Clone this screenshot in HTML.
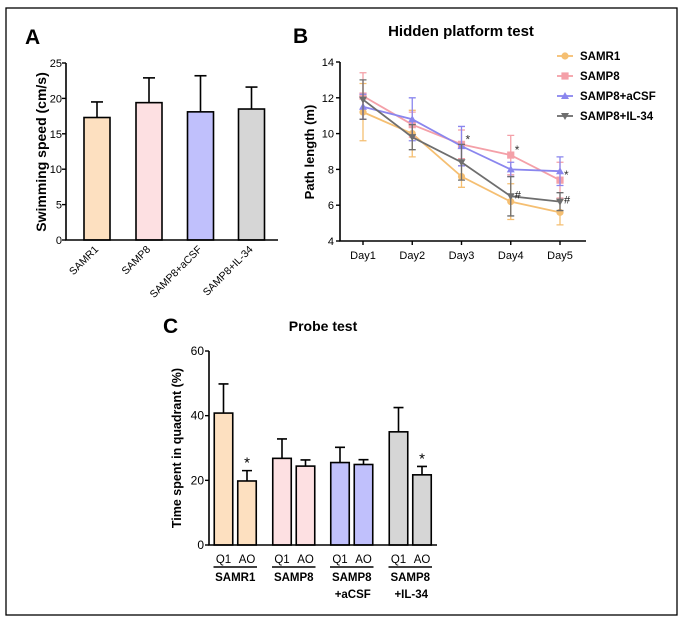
<!DOCTYPE html>
<html><head><meta charset="utf-8"><style>
html,body{margin:0;padding:0;background:#fff}
svg{display:block;font-family:"Liberation Sans",Arial,sans-serif}
</style></head><body>
<svg id="fig" width="681" height="620" viewBox="0 0 681 620">
<rect x="6" y="8" width="671" height="607" fill="none" stroke="#000" stroke-width="1.3"/>
<g id="A"></g>
<g id="B"></g>
<g id="C"></g>
</svg>
<script>
// Panel A data
const aCategories = ["SAMR1","SAMP8","SAMP8+aCSF","SAMP8+IL-34"];
const aValues = [17.3, 19.4, 18.1, 18.5];
const aErrors = [2.2, 3.5, 5.1, 3.1];
const aTicks = [0,5,10,15,20,25];
// Panel B data
const bDays = ["Day1","Day2","Day3","Day4","Day5"];
const bSeriesNames = ["SAMR1","SAMP8","SAMP8+aCSF","SAMP8+IL-34"];
const bSAMR1 = [11.2, 10.0, 7.6, 6.2, 5.6];
const bSAMP8 = [12.1, 10.5, 9.4, 8.8, 7.4];
const bACSF = [11.5, 10.8, 9.3, 8.0, 7.9];
const bIL34 = [11.9, 9.8, 8.4, 6.5, 6.2];
const bErrSAMR1 = [1.6, 1.3, 0.6, 1.0, 0.7];
const bErrSAMP8 = [1.3, 0.7, 0.8, 1.1, 1.0];
const bErrACSF = [0.7, 1.2, 1.1, 0.4, 0.8];
const bErrIL34 = [1.1, 0.7, 1.0, 1.1, 0.5];
const bTicks = [4,6,8,10,12,14];
// Panel C data
const cGroups = ["SAMR1","SAMP8","SAMP8+aCSF","SAMP8+IL-34"];
const cQ1 = [40.8, 26.8, 25.5, 35.0];
const cAO = [19.8, 24.4, 24.9, 21.7];
const cQ1Err = [9.0, 6.0, 4.7, 7.5];
const cAOErr = [3.2, 1.9, 1.5, 2.6];
const cTicks = [0,20,40,60];

const NS="http://www.w3.org/2000/svg";
const fills=["#fde0c0","#fde0e2","#c0c0fc","#d6d6d6"];
const lineCols=["#f5bf72","#f4a0a8","#8a86ee","#6e6e6e"];
function mk(parent,tag,attrs,text){const e=document.createElementNS(NS,tag);for(const k in attrs)e.setAttribute(k,attrs[k]);if(text!==undefined)e.textContent=text;parent.appendChild(e);return e;}

// ---------- Panel A ----------
(function(){
const g=document.getElementById('A');
const x0=66,x1=278,yb=240,yt=63;
const ys=v=>yb-(v/25)*(yb-yt);
let t=mk(g,'text',{x:25,y:44,'font-size':21,'font-weight':'bold'},'A');

const bw=26, cx=[97,149,200.5,251.5];
aCategories.forEach((c,i)=>{
  const y=ys(aValues[i]), ye=ys(aValues[i]+aErrors[i]);
  let l=mk(g,'line',{x1:cx[i],x2:cx[i],y1:y,y2:ye,stroke:'#000','stroke-width':1.6});
  
  let cap=mk(g,'line',{x1:cx[i]-6,x2:cx[i]+6,y1:ye,y2:ye,stroke:'#000','stroke-width':1.6});
  
  let r=mk(g,'rect',{x:cx[i]-bw/2,y:y,width:bw,height:yb-y,fill:fills[i],stroke:'#000','stroke-width':1.6});
  
  let tl=mk(g,'text',{x:cx[i]+2,y:yb+10,'font-size':10.5,'text-anchor':'end',transform:`rotate(-45 ${cx[i]+2} ${yb+10})`},c);
  
});
let ax=mk(g,'path',{d:`M${x0} ${yt}V${yb}H${x1}`,fill:'none',stroke:'#000','stroke-width':1.6});

aTicks.forEach(v=>{
  let tk=mk(g,'line',{x1:x0-4,x2:x0,y1:ys(v),y2:ys(v),stroke:'#000','stroke-width':1.4});
  
  let tl=mk(g,'text',{x:x0-4,y:ys(v)+4,'font-size':11,'text-anchor':'end'},v);
  
});
let yl=mk(g,'text',{x:46,y:152,'font-size':14,'font-weight':'bold','text-anchor':'middle',transform:'rotate(-90 46 152)'},'Swimming speed (cm/s)');

})();

// ---------- Panel B ----------
(function(){
const g=document.getElementById('B');
const x0=340,x1=586,yb=241,yt=62;
const ys=v=>yb-((v-4)/10)*(yb-yt);
const xs=i=>363+i*49.25;
let t=mk(g,'text',{x:293,y:43,'font-size':21,'font-weight':'bold'},'B');

let ti=mk(g,'text',{x:461,y:36,'font-size':15,'font-weight':'bold','text-anchor':'middle'},'Hidden platform test');

const series=[bSAMR1,bSAMP8,bACSF,bIL34], errs=[bErrSAMR1,bErrSAMP8,bErrACSF,bErrIL34];
function marker(k,x,y){
  let m;
  if(k===0)m=mk(g,'circle',{cx:x,cy:y,r:3.6,fill:lineCols[k]});
  else if(k===1)m=mk(g,'rect',{x:x-3.6,y:y-3.6,width:7.2,height:7.2,fill:lineCols[k]});
  else if(k===2)m=mk(g,'path',{d:`M${x} ${y-4}L${x+4} ${y+3}L${x-4} ${y+3}Z`,fill:lineCols[k]});
  else m=mk(g,'path',{d:`M${x} ${y+4}L${x+4} ${y-3}L${x-4} ${y-3}Z`,fill:lineCols[k]});
  return m;
}
series.forEach((s,k)=>{
  s.forEach((v,i)=>{
    let e=mk(g,'path',{d:`M${xs(i)-3.5} ${ys(v+errs[k][i])}H${xs(i)+3.5}M${xs(i)} ${ys(v+errs[k][i])}V${ys(v-errs[k][i])}M${xs(i)-3.5} ${ys(v-errs[k][i])}H${xs(i)+3.5}`,stroke:lineCols[k],'stroke-width':1.3,fill:'none'});
    
  });
  let p=mk(g,'polyline',{points:s.map((v,i)=>xs(i)+','+ys(v)).join(' '),fill:'none',stroke:lineCols[k],'stroke-width':1.8});
  
  s.forEach((v,i)=>{let m=marker(k,xs(i),ys(v));});
});
[[2,bSAMP8,'*'],[3,bSAMP8,'*'],[4,bSAMP8,'*']].forEach(([i,s,c])=>{
  let a=mk(g,'text',{x:xs(i)+4,y:ys(s[i])-1,'font-size':12,fill:'#333'},c);
  
});
[[3,bIL34],[4,bIL34]].forEach(([i,s])=>{
  let a=mk(g,'text',{x:xs(i)+4,y:ys(s[i])+2,'font-size':11,fill:'#111'},'#');
  
});
let ax=mk(g,'path',{d:`M${x0} ${yt}V${yb}H${x1}`,fill:'none',stroke:'#000','stroke-width':1.6});

bTicks.forEach(v=>{
  let tk=mk(g,'line',{x1:x0-4,x2:x0,y1:ys(v),y2:ys(v),stroke:'#000','stroke-width':1.4});
  
  let tl=mk(g,'text',{x:x0-6,y:ys(v)+4,'font-size':11,'text-anchor':'end'},v);
  
});
bDays.forEach((d,i)=>{
  let tk=mk(g,'line',{x1:xs(i),x2:xs(i),y1:yb,y2:yb+4,stroke:'#000','stroke-width':1.4});
  
  let tl=mk(g,'text',{x:xs(i),y:yb+18,'font-size':11,'text-anchor':'middle'},d);
  
});
let yl=mk(g,'text',{x:314,y:152,'font-size':13,'font-weight':'bold','text-anchor':'middle',transform:'rotate(-90 314 152)'},'Path length (m)');

bSeriesNames.forEach((n,k)=>{
  const y=56+k*20;
  let ll=mk(g,'line',{x1:557,x2:573,y1:y,y2:y,stroke:lineCols[k],'stroke-width':1.8});
  
  let m=marker(k,565,y);
  let tl=mk(g,'text',{x:580,y:y+4,'font-size':11.5,'font-weight':'bold'},n);
  
});
})();

// ---------- Panel C ----------
(function(){
const g=document.getElementById('C');
const x0=209,x1=437,yb=545,yt=351;
const ys=v=>yb-(v/60)*(yb-yt);
let t=mk(g,'text',{x:163,y:333,'font-size':21,'font-weight':'bold'},'C');

let ti=mk(g,'text',{x:323,y:331,'font-size':14,'font-weight':'bold','text-anchor':'middle'},'Probe test');

const bw=18.5, gx=[223.5,282,340,398.5];
cGroups.forEach((gr,i)=>{
  [[cQ1,cQ1Err,0],[cAO,cAOErr,1]].forEach(([vals,er,j])=>{
    const cx=gx[i]+j*23.5, y=ys(vals[i]), ye=ys(vals[i]+er[i]);
    let l=mk(g,'path',{d:`M${cx} ${y}V${ye}M${cx-5} ${ye}H${cx+5}`,stroke:'#000','stroke-width':1.6,fill:'none'});
    
    let r=mk(g,'rect',{x:cx-bw/2,y:y,width:bw,height:yb-y,fill:fills[i],stroke:'#000','stroke-width':1.6});
    
    let tl=mk(g,'text',{x:cx,y:563,'font-size':11.5,'text-anchor':'middle'},j?'AO':'Q1');
    
  });
  let ul=mk(g,'line',{x1:gx[i]-10,x2:gx[i]+33.5,y1:567,y2:567,stroke:'#000','stroke-width':1.5});
  
  const parts=gr.split('+');
  parts.forEach((p,k)=>{
    let tl=mk(g,'text',{x:gx[i]+11.75+(k?1:0),y:581+k*17,'font-size':11.5,'font-weight':'bold','text-anchor':'middle'},(k?'+':'')+p);
    
  });
});
[[0],[3]].forEach(([i])=>{
  const cx=gx[i]+23.5;
  let a=mk(g,'text',{x:cx,y:ys(cAO[i]+cAOErr[i])-3,'font-size':15,'text-anchor':'middle'},'*');
  
});
let ax=mk(g,'path',{d:`M${x0} ${yt}V${yb}H${x1}`,fill:'none',stroke:'#000','stroke-width':1.6});

cTicks.forEach(v=>{
  let tk=mk(g,'line',{x1:x0-4,x2:x0,y1:ys(v),y2:ys(v),stroke:'#000','stroke-width':1.4});
  
  let tl=mk(g,'text',{x:x0-5,y:ys(v)+4,'font-size':12,'text-anchor':'end'},v);
  
});
let yl=mk(g,'text',{x:181,y:448,'font-size':12.5,'font-weight':'bold','text-anchor':'middle',transform:'rotate(-90 181 448)'},'Time spent in quadrant (%)');

})();
</script>
</body></html>
